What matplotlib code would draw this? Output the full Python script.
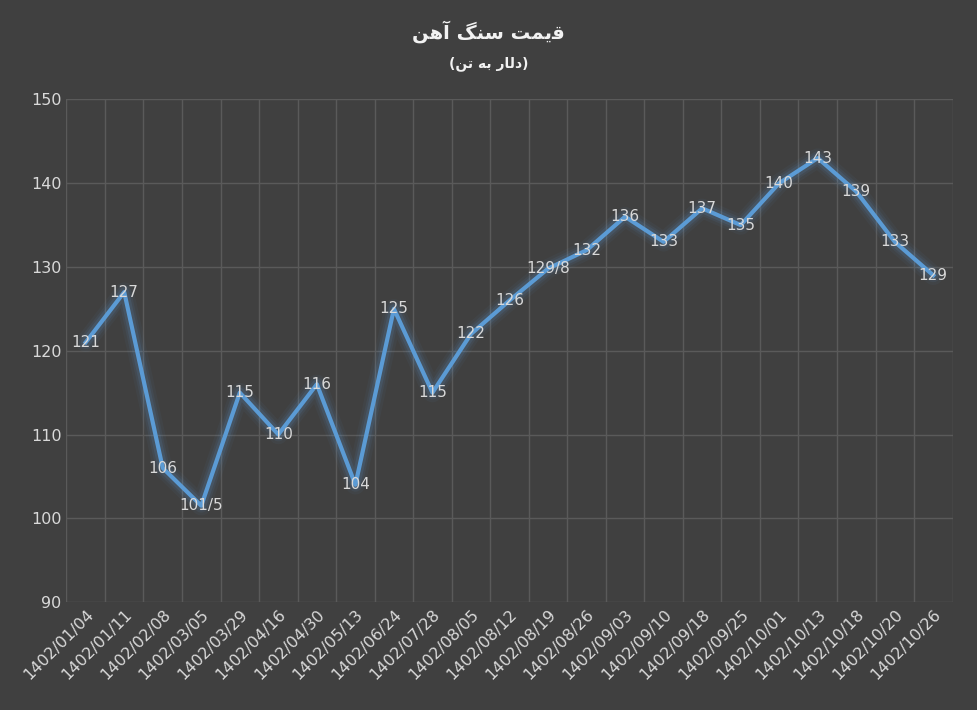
import matplotlib.pyplot as plt

dates = ['1402/01/04', '1402/01/11', '1402/02/08', '1402/03/05', '1402/03/29', '1402/04/16',
         '1402/04/30', '1402/05/13', '1402/06/24', '1402/07/28', '1402/08/05', '1402/08/12',
         '1402/08/19', '1402/08/26', '1402/09/03', '1402/09/10', '1402/09/18', '1402/09/25',
         '1402/10/01', '1402/10/13', '1402/10/18', '1402/10/20', '1402/10/26']
prices = [121, 127, 106, 101.5, 115, 110, 116, 104, 125, 115, 122, 126, 129.8, 132,
          136, 133, 137, 135, 140, 143, 139, 133, 129]
labels = ['121', '127', '106', '101/5', '115', '110', '116', '104', '125', '115', '122', '126',
          '129/8', '132', '136', '133', '137', '135', '140', '143', '139', '133', '129']

# Persian title in presentation forms, visual order
title = '\uFEE6\uFEEB\uFE81 \uFB93\uFEE8\uFEB3 \uFE96\uFEE4\uFBFE\uFED7'
subtitle = '(\uFEE6\uFE97 \uFEEA\uFE91 \uFEAD\uFE8E\uFEDF\uFEA9)'

bg = '#404040'
fig = plt.figure(figsize=(9.77, 7.10), dpi=100, facecolor=bg)
ax = fig.add_axes([0.068, 0.152, 0.907, 0.708], facecolor=bg)
x = list(range(len(dates)))

for lw, a in [(14, 0.05), (10, 0.08), (7, 0.13)]:
    ax.plot(x, prices, color='#5b9bd5', lw=lw, alpha=a, solid_capstyle='round')
ax.plot(x, prices, color='#5b9bd5', lw=3, solid_joinstyle='round')
for xi, yi, t in zip(x, prices, labels):
    ax.text(xi, yi, t, color='#d9d9d9', fontsize=11, ha='center', va='center')

ax.set_xlim(-0.5, len(dates) - 0.5)
ax.set_ylim(90, 150)
ax.set_yticks(range(90, 151, 10))
ax.set_xticks([i - 0.5 for i in range(len(dates) + 1)], minor=True)
ax.set_xticks(x)
ax.set_xticklabels(dates, rotation=45, ha='right', rotation_mode='anchor')
ax.grid(True, axis='y', color='#5a5a5a', lw=1)
ax.grid(True, axis='x', which='minor', color='#5a5a5a', lw=1)
ax.tick_params(colors='#d9d9d9', labelsize=11.5, length=0, which='both')
for s in ax.spines.values():
    s.set_visible(False)

fig.text(0.5, 0.945, title, color='#f2f2f2', fontsize=14, fontweight='bold', ha='center')
fig.text(0.5, 0.905, subtitle, color='#f2f2f2', fontsize=10, fontweight='bold', ha='center')

fig.savefig('out.png', facecolor=bg)
